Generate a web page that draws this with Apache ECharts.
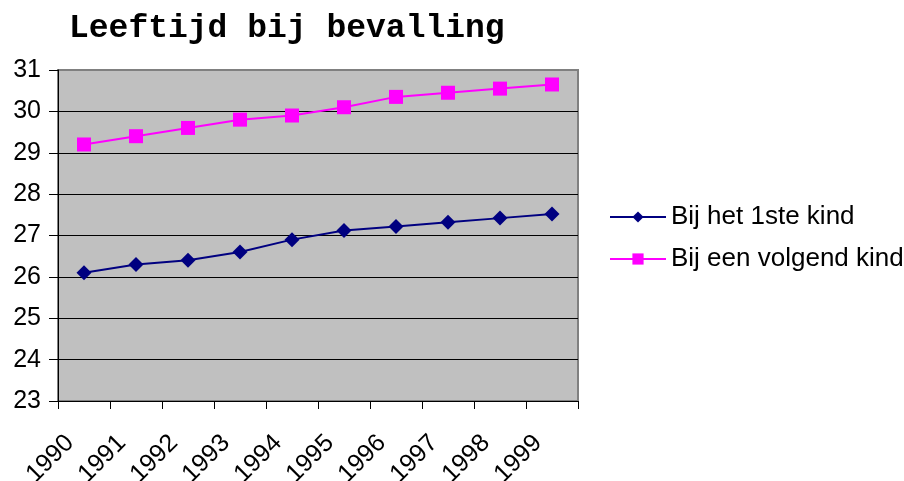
<!DOCTYPE html>
<html>
<head>
<meta charset="utf-8">
<script src="https://cdn.jsdelivr.net/npm/echarts@6/dist/echarts.min.js"></script>
<style>html,body{margin:0;padding:0;background:#fff}#c{width:904px;height:481px}</style>
</head>
<body>
<div id="c"></div>
<script>
const years = ['1990','1991','1992','1993','1994','1995','1996','1997','1998','1999'];
const eersteKind = [26.1, 26.3, 26.4, 26.6, 26.9, 27.12, 27.22, 27.32, 27.42, 27.52];
const volgendKind = [29.2, 29.4, 29.6, 29.8, 29.9, 30.1, 30.35, 30.45, 30.55, 30.65];
const yTicks = { min: 23, max: 31, interval: 1 };

const chart = echarts.init(document.getElementById('c'), null, { renderer: 'canvas' });
const font = '"Liberation Sans", Arial, sans-serif';
chart.setOption({
  animation: false,
  backgroundColor: '#ffffff',
  title: {
    text: 'Leeftijd bij bevalling',
    left: 64, top: 7,
    textStyle: { fontFamily: '"Liberation Mono", "Courier New", monospace', fontWeight: 'bold', fontSize: 33, color: '#000' }
  },
  legend: {
    orient: 'vertical',
    left: 604, top: 199,
    itemWidth: 56, itemHeight: 14, itemGap: 16,
    textStyle: { fontFamily: font, fontSize: 26, color: '#000' },
    data: ['Bij het 1ste kind', 'Bij een volgend kind']
  },
  grid: {
    left: 58, right: 326, top: 70, bottom: 80,
    show: true, backgroundColor: '#C0C0C0', borderColor: '#808080', borderWidth: 2,
    containLabel: false, outerBoundsMode: 'none'
  },
  xAxis: {
    type: 'category', data: years, boundaryGap: true,
    axisLine: { lineStyle: { color: '#000', width: 1 } },
    axisTick: { show: true, alignWithLabel: false, length: 8, lineStyle: { color: '#000' } },
    axisLabel: { rotate: 45, margin: 24, padding: [0, 20, 0, 0], fontFamily: font, fontSize: 25, color: '#000' },
    splitLine: { show: false }
  },
  yAxis: {
    type: 'value', min: yTicks.min, max: yTicks.max, interval: yTicks.interval,
    axisLine: { show: true, lineStyle: { color: '#000', width: 1 } },
    axisTick: { show: true, length: 9, lineStyle: { color: '#000' } },
    axisLabel: { margin: 17, fontFamily: font, fontSize: 25, color: '#000' },
    splitLine: { show: true, showMaxLine: false, showMinLine: false, lineStyle: { color: '#000', width: 1 } }
  },
  series: [
    {
      name: 'Bij het 1ste kind', type: 'line', data: eersteKind,
      symbol: 'diamond', symbolSize: 15,
      lineStyle: { color: '#000080', width: 2 },
      itemStyle: { color: '#000080' }
    },
    {
      name: 'Bij een volgend kind', type: 'line', data: volgendKind,
      symbol: 'rect', symbolSize: 14,
      lineStyle: { color: '#FF00FF', width: 2 },
      itemStyle: { color: '#FF00FF' }
    }
  ]
});
</script>
</body>
</html>
